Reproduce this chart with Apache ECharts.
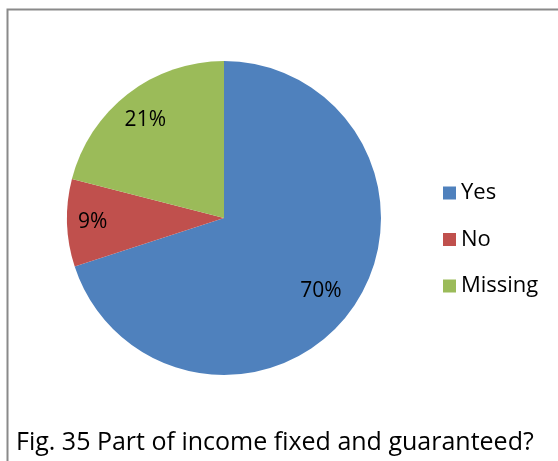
<!DOCTYPE html>
<html><head><meta charset="utf-8">
<script src="https://cdn.jsdelivr.net/npm/echarts@6/dist/echarts.min.js"></script>
<style>html,body{margin:0;padding:0;background:#fff}#c{width:558px;height:461px}</style>
</head><body><div id="c"></div>
<script>
const categories = ['Yes', 'No', 'Missing'];
const values = [70, 9, 21];
const colors = ['#4F81BD', '#C0504D', '#9BBB59'];
const caption = 'Fig. 35 Part of income fixed and guaranteed?';

const FONT = '"Open Sans", sans-serif';
const labelPad = [[0, 6, 0, 0], [6, 16, 0, 0], [10, 6, 0, 0]];
const chart = echarts.init(document.getElementById('c'), null, {renderer: 'canvas'});
const data = categories.map((n, i) => ({name: n, value: values[i], itemStyle: {color: colors[i]}}));
chart.setOption({
  animation: false,
  backgroundColor: '#fff',
  graphic: [
    {type: 'rect', shape: {x: 7.5, y: 9.5, width: 600, height: 500}, style: {fill: 'none', stroke: '#8a8a8a', lineWidth: 2}, z: 100},
    {type: 'text', left: 16, top: 430, style: {text: caption, font: '25px ' + FONT, fill: '#000'}}
  ],
  legend: {
    orient: 'vertical', left: 443, top: 182, padding: 0,
    icon: 'rect', itemWidth: 13, itemHeight: 13, itemGap: 24.5,
    textStyle: {fontFamily: FONT, fontSize: 22, color: '#000'},
    data: categories
  },
  series: [
    {
      type: 'pie', center: [224, 218], radius: 157, startAngle: 90, clockwise: true,
      label: {show: false}, labelLine: {show: false}, emphasis: {disabled: true},
      itemStyle: {borderWidth: 0},
      data: data
    },
    {
      type: 'pie', center: [224, 218], radius: [84, 157], startAngle: 90, clockwise: true,
      silent: true, legendHoverLink: false,
      itemStyle: {color: 'rgba(0,0,0,0)'},
      label: {show: true, position: 'inside', formatter: '{c}%', fontFamily: FONT, fontSize: 21, color: '#000'},
      labelLine: {show: false},
      data: categories.map((n, i) => ({name: n + ' ', value: values[i], label: {padding: labelPad[i]}}))
    }
  ]
});
</script></body></html>
